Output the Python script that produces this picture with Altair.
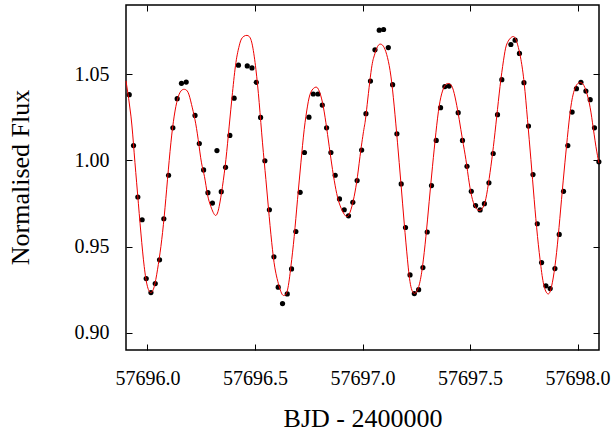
import altair as alt
import pandas as pd

# Observed photometry (BJD - 2400000, normalised flux)
bjd_obs = [57695.915, 57695.935, 57695.955, 57695.975, 57695.994, 57696.016, 57696.036, 57696.056, 57696.076, 57696.098,
           57696.118, 57696.138, 57696.158, 57696.180, 57696.221, 57696.241, 57696.261, 57696.281, 57696.302, 57696.323,
           57696.343, 57696.363, 57696.383, 57696.403, 57696.423, 57696.464, 57696.486, 57696.506, 57696.526, 57696.546,
           57696.567, 57696.588, 57696.608, 57696.628, 57696.650, 57696.670, 57696.690, 57696.710, 57696.730, 57696.751,
           57696.771, 57696.793, 57696.813, 57696.833, 57696.853, 57696.873, 57696.893, 57696.915, 57696.935, 57696.955,
           57696.975, 57696.996, 57697.016, 57697.037, 57697.058, 57697.078, 57697.098, 57697.120, 57697.140, 57697.160,
           57697.180, 57697.200, 57697.221, 57697.241, 57697.261, 57697.281, 57697.301, 57697.321, 57697.343, 57697.363,
           57697.383, 57697.403, 57697.445, 57697.465, 57697.486, 57697.506, 57697.526, 57697.547, 57697.567, 57697.588,
           57697.608, 57697.628, 57697.648, 57697.690, 57697.710, 57697.730, 57697.751, 57697.772, 57697.793, 57697.813,
           57697.833, 57697.853, 57697.873, 57697.895, 57697.915, 57697.935, 57697.955, 57697.975, 57697.995, 57698.016,
           57698.039, 57698.059, 57698.079, 57698.0995]
flux_obs = [1.0380, 1.0085, 0.9787, 0.9655, 0.9314, 0.9233, 0.9285, 0.9423, 0.9661, 0.9913,
            1.0188, 1.0357, 1.0446, 1.0453, 1.0260, 1.0097, 0.9944, 0.9812, 0.9752, 1.0056,
            0.9818, 0.9959, 1.0144, 1.0360, 1.0551, 1.0547, 1.0535, 1.0452, 1.0248, 0.9997,
            0.9713, 0.9440, 0.9264, 0.9169, 0.9225, 0.9370, 0.9587, 0.9814, 1.0045, 1.0250,
            1.0384, 1.0384, 1.0320, 1.0188, 1.0045, 0.9913, 0.9776, 0.9713, 0.9678, 0.9756,
            0.9882, 1.0059, 1.0270, 1.0459, 1.0640, 1.0754, 1.0758, 1.0653, 1.0438, 1.0153,
            0.9863, 0.9610, 0.9335, 0.9227, 0.9250, 0.9378, 0.9584, 0.9853, 1.0115, 1.0305,
            1.0427, 1.0430, 1.0276, 1.0115, 0.9965, 0.9820, 0.9737, 0.9712, 0.9748, 0.9869,
            1.0039, 1.0264, 1.0467, 1.0671, 1.0696, 1.0619, 1.0450, 1.0198, 0.9917, 0.9632,
            0.9407, 0.9272, 0.9256, 0.9372, 0.9570, 0.9820, 1.0085, 1.0279, 1.0415, 1.0452,
            1.0401, 1.0351, 1.0188, 0.9991]

# Model curve
model_bjd = [57695.900, 57695.923, 57695.938, 57695.9535, 57695.9693, 57695.9847, 57696.000, 57696.0158, 57696.0312, 57696.0465,
             57696.0623, 57696.0777, 57696.093, 57696.1088, 57696.1242, 57696.1395, 57696.1553, 57696.1721, 57696.1893, 57696.2047,
             57696.2205, 57696.2358, 57696.2512, 57696.2651, 57696.2791, 57696.2949, 57696.3163, 57696.3335, 57696.3488, 57696.3647,
             57696.38, 57696.3953, 57696.4112, 57696.4265, 57696.4419, 57696.4698, 57696.4884, 57696.5042, 57696.5195, 57696.5349,
             57696.5507, 57696.566, 57696.5814, 57696.5972, 57696.6205, 57696.6358, 57696.6512, 57696.667, 57696.6823, 57696.6977,
             57696.7135, 57696.7288, 57696.7442, 57696.76, 57696.7833, 57696.7986, 57696.814, 57696.8298, 57696.8451, 57696.8605,
             57696.8763, 57696.8916, 57696.9116, 57696.9302, 57696.946, 57696.9614, 57696.9767, 57696.9926, 57697.0079, 57697.0172,
             57697.0391, 57697.0544, 57697.0698, 57697.0856, 57697.1009, 57697.1163, 57697.1321, 57697.1474, 57697.1628, 57697.1786,
             57697.194, 57697.2093, 57697.2251, 57697.2451, 57697.2637, 57697.2791, 57697.2949, 57697.3102, 57697.3256, 57697.3414,
             57697.3567, 57697.3721, 57697.3879, 57697.4033, 57697.4186, 57697.4344, 57697.4498, 57697.4651, 57697.4809, 57697.4963,
             57697.5116, 57697.5274, 57697.546, 57697.566, 57697.5814, 57697.5972, 57697.6126, 57697.6279, 57697.6437, 57697.6591,
             57697.6744, 57697.7023, 57697.7209, 57697.7367, 57697.7521, 57697.7674, 57697.7833, 57697.7986, 57697.814, 57697.8298,
             57697.8451, 57697.8637, 57697.8791, 57697.8949, 57697.9102, 57697.9256, 57697.9414, 57697.9567, 57697.9721, 57697.9926,
             57698.0158, 57698.0344, 57698.0544, 57698.0698, 57698.0856, 57698.0995]
model_flux = [1.0460, 1.0256, 1.0043, 0.9810, 0.9578, 0.9384, 0.9267, 0.9233, 0.9267, 0.9365,
              0.9500, 0.9674, 0.9888, 1.0101, 1.0256, 1.0353, 1.0401, 1.0411, 1.0392, 1.0324,
              1.0237, 1.0120, 0.9985, 0.9905, 0.9801, 0.9731, 0.9680, 0.9733, 0.9849, 1.0004,
              1.0198, 1.0392, 1.0566, 1.0663, 1.0712, 1.0721, 1.0663, 1.0527, 1.0334, 1.0101,
              0.9888, 0.9674, 0.9481, 0.9345, 0.9238, 0.9216, 0.9248, 0.9384, 0.9558, 0.9772,
              0.9985, 1.0178, 1.0314, 1.0395, 1.0424, 1.0401, 1.0334, 1.0217, 1.0081, 0.9946,
              0.9830, 0.9752, 0.9694, 0.9674, 0.9713, 0.9791, 0.9907, 1.0062, 1.0190, 1.0272,
              1.0508, 1.0605, 1.0659, 1.0673, 1.0653, 1.0595, 1.0488, 1.0314, 1.0101, 0.9869,
              0.9636, 0.9423, 0.9267, 0.9229, 0.9277, 0.9384, 0.9558, 0.9762, 0.9965, 1.0159,
              1.0314, 1.0401, 1.0440, 1.0444, 1.0421, 1.0343, 1.0237, 1.0120, 1.0004, 0.9869,
              0.9772, 0.9723, 0.9709, 0.9742, 0.9830, 0.9965, 1.0120, 1.0295, 1.0469, 1.0605,
              1.0683, 1.0717, 1.0673, 1.0585, 1.0446, 1.0237, 1.0004, 0.9772, 0.9558, 0.9384,
              0.9267, 0.9225, 0.9267, 0.9384, 0.9558, 0.9772, 0.9985, 1.0178, 1.0334, 1.0430,
              1.0450, 1.0421, 1.0334, 1.0217, 1.0081, 0.9985]

x_ticks = [57696.0, 57696.5, 57697.0, 57697.5, 57698.0]
y_ticks = [0.90, 0.95, 1.00, 1.05]

obs = pd.DataFrame({"bjd": bjd_obs, "flux": flux_obs})
model = pd.DataFrame({"bjd": model_bjd, "flux": model_flux})

FONT = "Liberation Serif"
xscale = alt.Scale(domain=[57695.9, 57698.1], nice=False, zero=False)
yscale = alt.Scale(domain=[0.89, 1.09], nice=False, zero=False)

x_bottom = alt.Axis(orient="bottom", values=x_ticks, format=".1f", offset=-6, tickSize=6,
                    tickColor="black", tickWidth=1, domain=False, grid=False,
                    labelFont=FONT, labelFontSize=20, labelColor="black", labelPadding=18,
                    labelFlush=False, labelOverlap=False,
                    title="BJD - 2400000", titleFont=FONT, titleFontSize=26,
                    titleFontWeight="normal", titleColor="black",
                    titleBaseline="alphabetic", titleY=82)
y_left = alt.Axis(orient="left", values=y_ticks, format=".2f", offset=-6, tickSize=6,
                  tickColor="black", tickWidth=1, domain=False, grid=False,
                  labelFont=FONT, labelFontSize=20, labelColor="black", labelPadding=17,
                  labelOverlap=False,
                  title="Normalised Flux", titleFont=FONT, titleFontSize=26,
                  titleFontWeight="normal", titleColor="black", titleAngle=270,
                  titleAlign="center", titleBaseline="alphabetic", titleX=-104, titleY=172)
x_top = alt.Axis(orient="top", values=x_ticks, offset=-6, tickSize=6, tickColor="black",
                 tickWidth=1, domain=False, grid=False, labels=False, title=None)
y_right = alt.Axis(orient="right", values=y_ticks, offset=-6, tickSize=6, tickColor="black",
                   tickWidth=1, domain=False, grid=False, labels=False, title=None)

points = alt.Chart(obs).mark_circle(size=27, color="black", opacity=1).encode(
    x=alt.X("bjd:Q", scale=xscale, axis=x_bottom),
    y=alt.Y("flux:Q", scale=yscale, axis=y_left),
)
line = alt.Chart(model).mark_line(color="#ee0000", strokeWidth=1, interpolate="natural").encode(
    x=alt.X("bjd:Q", scale=xscale, axis=x_top),
    y=alt.Y("flux:Q", scale=yscale, axis=y_right),
)

chart = alt.layer(points, line).resolve_axis(x="independent", y="independent").properties(
    width=473, height=345,
    padding={"left": 126, "top": 5, "right": 12, "bottom": 84},
    autosize=alt.AutoSizeParams(type="none"),
    background="white",
).configure_view(stroke="black", strokeWidth=1.5)

chart.save("out.html", embed_options={"renderer": "svg", "actions": False})
